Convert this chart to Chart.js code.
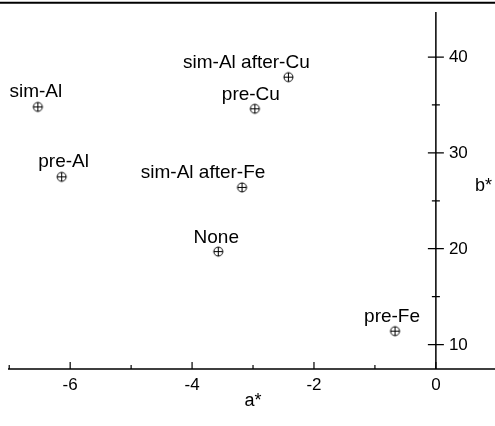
<!DOCTYPE html>
<html>
<head>
<meta charset="utf-8">
<script src="https://cdn.jsdelivr.net/npm/chart.js@4"></script>
<style>
  html, body { margin: 0; padding: 0; background: #fff; }
  #wrap { width: 495px; height: 426px; }
</style>
</head>
<body>
<div id="wrap"><canvas id="chart" width="495" height="426"></canvas></div>
<script>
// sample names and their colour coordinates
const sampleNames = ['sim-Al', 'pre-Al', 'sim-Al after-Cu', 'pre-Cu', 'sim-Al after-Fe', 'None', 'pre-Fe'];
const aValues = [-6.53, -6.14, -2.42, -2.97, -3.18, -3.57, -0.67];
const bValues = [34.8, 27.5, 37.9, 34.6, 26.4, 19.7, 11.4];

// axis ticks
const xMajorTicks = [-6, -4, -2, 0];
const xMinorTicks = [-7, -5, -3, -1];
const yMajorTicks = [10, 20, 30, 40];
const yMinorTicks = [15, 25, 35];

// label placement relative to marker (layout only)
const labelShiftX = [-2, 2, -42, -4, -39, -2, -3];
const labelShiftY = [-10, -10, -9, -9, -9, -9, -9];

function makeMarker() {
    const c = document.createElement('canvas');
    c.width = 13; c.height = 13;
    const g = c.getContext('2d');
    g.strokeStyle = '#000';
    g.lineWidth = 1;
    g.beginPath();
    g.arc(6.5, 6.5, 4.5, 0, Math.PI * 2);
    g.moveTo(2, 6.5); g.lineTo(11, 6.5);
    g.moveTo(6.5, 2); g.lineTo(6.5, 11);
    g.stroke();
    return c;
}

const axesPlugin = {
    id: 'axesPlugin',
    afterDraw(chart) {
        const ctx = chart.ctx;
        const xs = chart.scales.x;
        const ys = chart.scales.y;
        const area = chart.chartArea;
        const x0 = xs.getPixelForValue(0);

        ctx.save();
        ctx.strokeStyle = '#000';
        ctx.fillStyle = '#000';

        // top frame line
        ctx.lineWidth = 2;
        ctx.beginPath();
        ctx.moveTo(0, 2.7); ctx.lineTo(495, 2.7);
        ctx.stroke();

        ctx.lineWidth = 1.5;
        ctx.beginPath();
        ctx.moveTo(area.left, area.bottom); ctx.lineTo(area.right, area.bottom);
        ctx.moveTo(x0, area.top); ctx.lineTo(x0, area.bottom);
        ctx.stroke();

        ctx.lineWidth = 1.2;
        ctx.beginPath();
        xMajorTicks.forEach(v => {
            const px = xs.getPixelForValue(v);
            ctx.moveTo(px, area.bottom); ctx.lineTo(px, area.bottom - 7);
        });
        xMinorTicks.forEach(v => {
            const px = xs.getPixelForValue(v);
            ctx.moveTo(px, area.bottom); ctx.lineTo(px, area.bottom - 4);
        });
        yMajorTicks.forEach(v => {
            const py = ys.getPixelForValue(v);
            ctx.moveTo(x0 - 8, py); ctx.lineTo(x0 + 8, py);
        });
        yMinorTicks.forEach(v => {
            const py = ys.getPixelForValue(v);
            ctx.moveTo(x0 - 4, py); ctx.lineTo(x0 + 4, py);
        });
        ctx.stroke();

        ctx.font = '17px "Liberation Sans", Arial, sans-serif';
        ctx.textAlign = 'center';
        ctx.textBaseline = 'middle';
        xMajorTicks.forEach(v => {
            ctx.fillText(String(v), xs.getPixelForValue(v), area.bottom + 16);
        });
        ctx.textAlign = 'left';
        yMajorTicks.forEach(v => {
            ctx.fillText(String(v), x0 + 13, ys.getPixelForValue(v) + 0.5);
        });

        // axis titles
        ctx.font = '18px "Liberation Sans", Arial, sans-serif';
        ctx.textBaseline = 'alphabetic';
        ctx.textAlign = 'center';
        ctx.fillText('a*', 253, 406);
        ctx.textAlign = 'left';
        ctx.fillText('b*', 475, 191);

        // point labels
        ctx.font = '19px "Liberation Sans", Arial, sans-serif';
        ctx.textAlign = 'center';
        const meta = chart.getDatasetMeta(0);
        meta.data.forEach((pt, i) => {
            ctx.fillText(sampleNames[i], pt.x + labelShiftX[i], pt.y + labelShiftY[i]);
        });
        ctx.restore();
    }
};

new Chart(document.getElementById('chart'), {
    type: 'scatter',
    data: {
        datasets: [{
            label: 'samples',
            data: aValues.map((a, i) => ({ x: a, y: bValues[i] })),
            pointStyle: makeMarker(),
            pointRadius: 6
        }]
    },
    options: {
        responsive: false,
        animation: false,
        layout: { autoPadding: false, padding: { left: 8, right: 0, top: 12, bottom: 57 } },
        scales: {
            x: { type: 'linear', min: -7.02, max: 0.97, display: false },
            y: { type: 'linear', min: 7.45, max: 44.7, display: false }
        },
        plugins: {
            legend: { display: false },
            tooltip: { enabled: false }
        }
    },
    plugins: [axesPlugin]
});
</script>
</body>
</html>
